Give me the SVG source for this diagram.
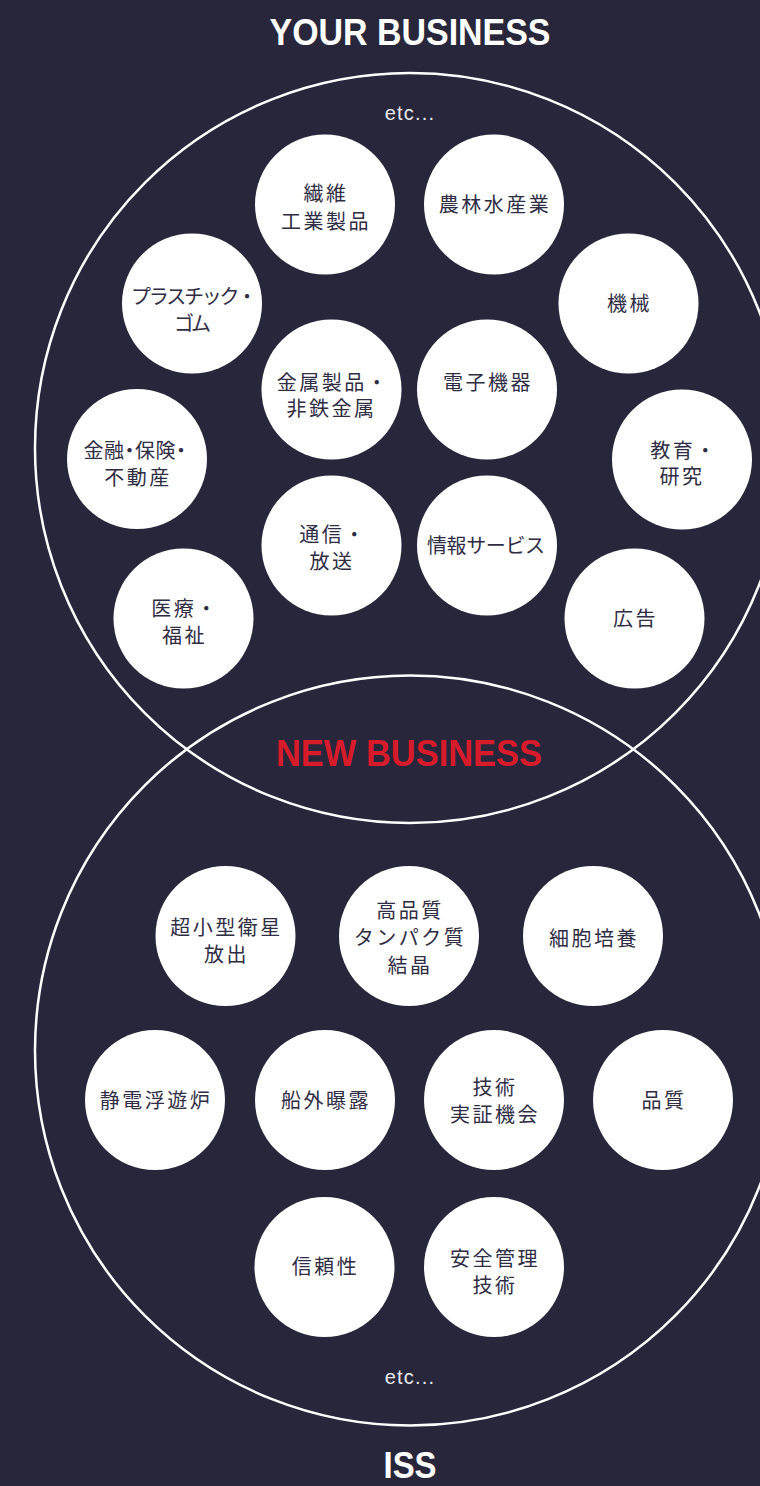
<svg xmlns="http://www.w3.org/2000/svg" width="760" height="1486" viewBox="0 0 760 1486">
<style>
.bg{fill:#28263b}
.big{fill:none;stroke:#ffffff;stroke-width:2.5}
.node circle{fill:#ffffff}
.node text{font-family:"Noto Sans CJK JP","Noto Sans",sans-serif;font-size:20px;fill:#2f2d44;text-anchor:middle;letter-spacing:2.5px}
.node text.fit{letter-spacing:0px}
.node text.palt{font-feature-settings:"palt";letter-spacing:0.5px}
.title{font-family:"Liberation Sans",Arial,sans-serif;font-weight:bold;font-size:37px;fill:#ffffff;text-anchor:middle}
.red{fill:#d81b2b}
.etc{font-family:"Liberation Sans",Arial,sans-serif;font-size:20px;fill:#e8e8ec;text-anchor:middle;letter-spacing:1.2px}
</style>
<rect class="bg" x="0" y="0" width="760" height="1486"/>
<g id="sets">
<circle class="big" cx="410" cy="448" r="375"/>
<circle class="big" cx="410" cy="1050.5" r="375"/>
</g>
<g id="labels">
<text class="title" x="410" y="45" textLength="281" lengthAdjust="spacingAndGlyphs">YOUR BUSINESS</text>
<text class="title red" x="409" y="766" textLength="266" lengthAdjust="spacingAndGlyphs">NEW BUSINESS</text>
<text class="title" x="410" y="1478" textLength="53" lengthAdjust="spacingAndGlyphs">ISS</text>
<text class="etc" x="410" y="120">etc...</text>
<text class="etc" x="410" y="1384">etc...</text>
</g>
<g id="n1" class="node"><circle cx="325" cy="204.5" r="70"/><text x="326" y="201">繊維</text><text x="326" y="229">工業製品</text></g>
<g id="n2" class="node"><circle cx="494" cy="204.5" r="70"/><text x="495" y="212">農林水産業</text></g>
<g id="n3" class="node"><circle cx="192" cy="303.5" r="70"/><text class="fit" x="194" y="304" textLength="126" lengthAdjust="spacing">プラスチック・</text><text class="fit" x="192.5" y="331" textLength="37" lengthAdjust="spacing">ゴム</text></g>
<g id="n4" class="node"><circle cx="628.5" cy="303.5" r="70"/><text x="629.5" y="311">機械</text></g>
<g id="n5" class="node"><circle cx="331.5" cy="389.5" r="70"/><text x="333" y="389.5">金属製品・</text><text x="331.5" y="416">非鉄金属</text></g>
<g id="n6" class="node"><circle cx="487" cy="389.5" r="70"/><text x="488" y="389.5">電子機器</text></g>
<g id="n7" class="node"><circle cx="137" cy="459" r="70"/><text class="palt" x="135" y="458">金融・保険・</text><text x="138" y="484.5">不動産</text></g>
<g id="n8" class="node"><circle cx="682" cy="459.5" r="70"/><text x="684" y="457.5">教育・</text><text x="682" y="484">研究</text></g>
<g id="n9" class="node"><circle cx="331.5" cy="545.5" r="70"/><text x="333" y="542">通信・</text><text x="332" y="568.5">放送</text></g>
<g id="n10" class="node"><circle cx="487" cy="545.5" r="70"/><text class="fit" x="486" y="553" textLength="118" lengthAdjust="spacing">情報サービス</text></g>
<g id="n11" class="node"><circle cx="183.5" cy="618.5" r="70"/><text x="185" y="616">医療・</text><text x="184.5" y="643">福祉</text></g>
<g id="n12" class="node"><circle cx="634.5" cy="618.5" r="70"/><text x="635.5" y="626">広告</text></g>
<g id="n13" class="node"><circle cx="225.5" cy="936" r="70"/><text x="226.5" y="934.5">超小型衛星</text><text x="226.5" y="962">放出</text></g>
<g id="n14" class="node"><circle cx="409" cy="936" r="70"/><text x="410" y="918">高品質</text><text x="410" y="944.5">タンパク質</text><text x="410" y="973">結晶</text></g>
<g id="n15" class="node"><circle cx="593" cy="936" r="70"/><text x="594" y="946">細胞培養</text></g>
<g id="n16" class="node"><circle cx="155" cy="1100" r="70"/><text x="156" y="1108">静電浮遊炉</text></g>
<g id="n17" class="node"><circle cx="325" cy="1100" r="70"/><text x="326" y="1108">船外曝露</text></g>
<g id="n18" class="node"><circle cx="494" cy="1100" r="70"/><text x="495" y="1094.5">技術</text><text x="495" y="1122">実証機会</text></g>
<g id="n19" class="node"><circle cx="663" cy="1100" r="70"/><text x="664" y="1108">品質</text></g>
<g id="n20" class="node"><circle cx="324.5" cy="1267" r="70"/><text x="325.5" y="1274">信頼性</text></g>
<g id="n21" class="node"><circle cx="494" cy="1267" r="70"/><text x="495" y="1266">安全管理</text><text x="495" y="1293">技術</text></g>
</svg>
